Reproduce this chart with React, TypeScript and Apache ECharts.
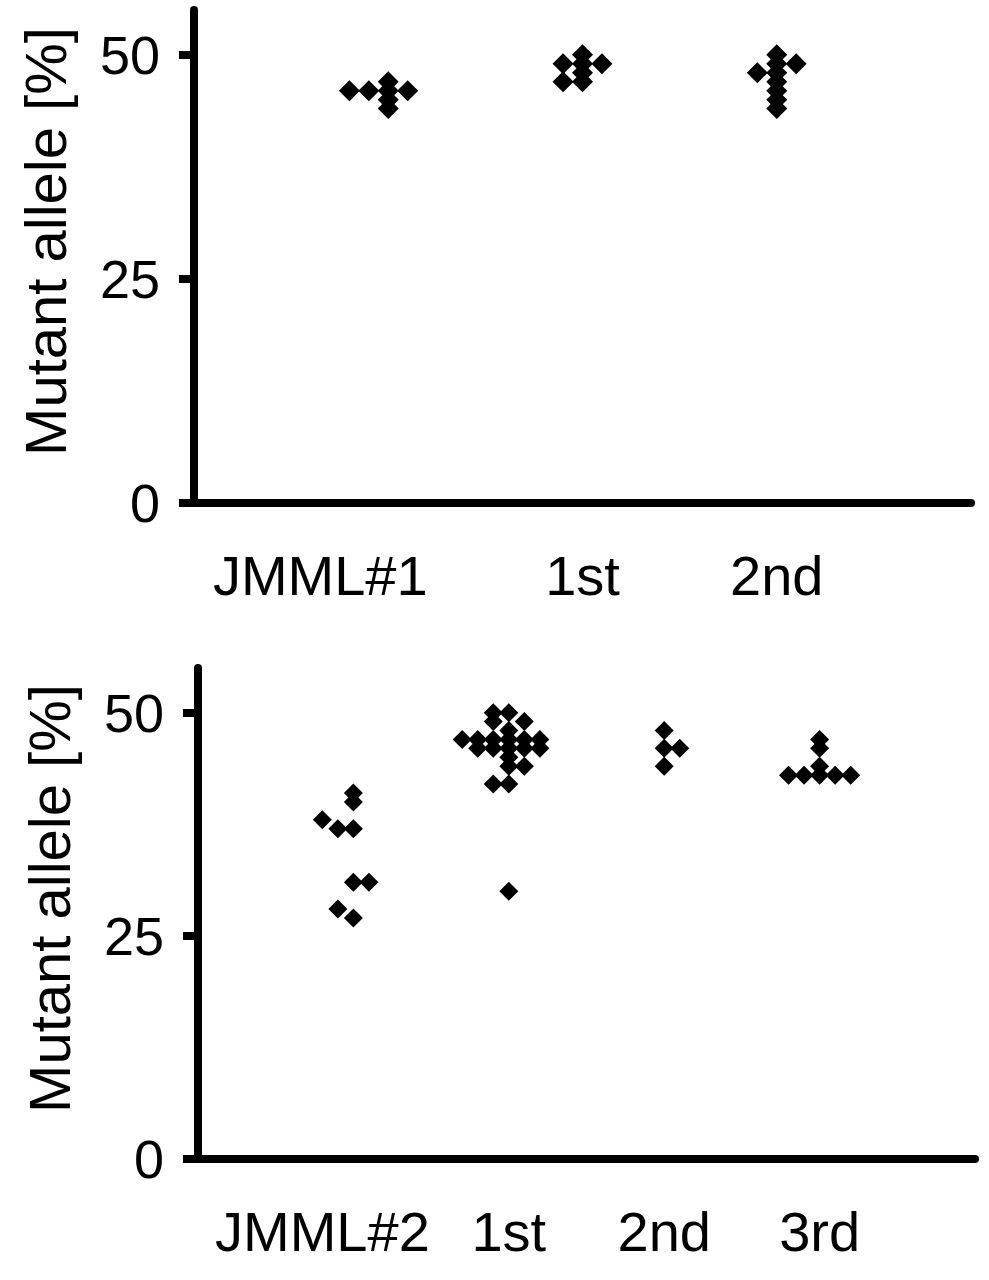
import React, { useEffect, useRef } from "react";
import * as echarts from "echarts";

const topCategories = ["JMML#1", "1st", "2nd"];
const bottomCategories = ["JMML#2", "1st", "2nd", "3rd"];
const yTickValues = [0, 25, 50];
const yAxisTitle = "Mutant allele [%]";

// top panel (x = category position incl. horizontal spread, y = mutant allele %)
const topJmml1X = [0.8, 0.9, 1.0, 1.0, 1.0, 1.0, 1.1];
const topJmml1Y = [46, 46, 46, 47, 45, 44, 46];
const top1stX = [1.9, 1.9, 2.0, 2.0, 2.0, 2.0, 2.1];
const top1stY = [49, 47, 50, 49, 48, 47, 49];
const top2ndX = [2.9, 3.0, 3.0, 3.0, 3.0, 3.0, 3.0, 3.0, 3.1];
const top2ndY = [48, 50, 49, 48, 47, 46, 45, 44, 49];

// bottom panel
const botJmml2X = [1.0, 1.0, 0.8, 0.9, 1.0, 1.0, 1.1, 0.9, 1.0];
const botJmml2Y = [41, 40, 38, 37, 37, 31, 31, 28, 27];
const bot1stX = [1.9, 2.0, 1.9, 2.1, 2.0, 1.7, 1.8, 1.9, 2.0, 2.1, 2.2, 1.8, 1.9, 2.0, 2.1, 2.2, 2.0, 2.0, 2.1, 1.9, 2.0, 2.0];
const bot1stY = [50, 50, 49, 49, 48, 47, 47, 47, 47, 47, 47, 46, 46, 46, 46, 46, 45, 44, 44, 42, 42, 30];
const bot2ndX = [3.0, 3.0, 3.1, 3.0];
const bot2ndY = [48, 46, 46, 44];
const bot3rdX = [4.0, 4.0, 4.0, 3.8, 3.9, 4.0, 4.1, 4.2];
const bot3rdY = [47, 46, 44, 43, 43, 43, 43, 43];

const FONT = "'Liberation Sans', Arial, sans-serif";

function zip(xs: number[], ys: number[]) {
  return xs.map((x, i) => [x, ys[i]]);
}

function catFormatter(cats: string[]) {
  return (v: number) => {
    const r = Math.round(v);
    if (Math.abs(v - r) > 1e-6) return "";
    const i = r - 1;
    if (i < 0 || i >= cats.length) return "";
    return i === 0 ? `{first|${cats[0]}}` : cats[i];
  };
}

export default function App() {
  const ref = useRef<HTMLDivElement>(null);
  useEffect(() => {
    document.body.style.margin = "0";
    const chart = echarts.init(ref.current!, undefined, { renderer: "svg" });
    const axisLine = { show: true, lineStyle: { color: "#000", width: 8 } };
    const yAxisCommon = {
      type: "value",
      min: 0,
      max: 55,
      interval: 25,
      splitLine: { show: false },
      axisLine,
      axisTick: {
        show: true,
        customValues: yTickValues,
        length: 15,
        lineStyle: { color: "#000", width: 8 },
      },
      axisLabel: {
        customValues: yTickValues,
        margin: 34,
        color: "#000",
        fontSize: 54,
        fontFamily: FONT,
      },
      name: yAxisTitle,
      nameLocation: "middle",
      nameRotate: 90,
      nameGap: 120,
      nameTextStyle: { color: "#000", fontSize: 58, fontFamily: FONT, padding: [0, 0, 0, 30] },
    };
    const xAxisCommon = (cats: string[], max: number, shift: number, idx: number) => ({
      type: "value",
      gridIndex: idx,
      min: 0,
      max,
      interval: 1,
      splitLine: { show: false },
      axisLine,
      axisTick: { show: false },
      axisLabel: {
        formatter: catFormatter(cats),
        margin: 44,
        color: "#000",
        fontSize: 56,
        fontFamily: FONT,
        showMinLabel: true,
        showMaxLabel: true,
        rich: {
          first: { padding: [0, shift, 0, 0], fontSize: 56, fontFamily: FONT, color: "#000" },
        },
      },
    });
    const scatter = (data: number[][], idx: number, size: number) => ({
      type: "scatter",
      xAxisIndex: idx,
      yAxisIndex: idx,
      symbol: "diamond",
      symbolSize: size,
      itemStyle: { color: "#000", opacity: 1 },
      data,
    });
    chart.setOption({
      animation: false,
      backgroundColor: "#fff",
      grid: [
        { left: 194, right: 18, top: 10, bottom: 1280 - 503 },
        { left: 198, right: 14, top: 668, bottom: 1280 - 1159 },
      ],
      xAxis: [xAxisCommon(topCategories, 4, 136, 0), xAxisCommon(bottomCategories, 5, 62, 1)],
      yAxis: [
        { ...yAxisCommon, gridIndex: 0 },
        { ...yAxisCommon, gridIndex: 1 },
      ],
      series: [
        scatter(zip(topJmml1X, topJmml1Y), 0, 21),
        scatter(zip(top1stX, top1stY), 0, 21),
        scatter(zip(top2ndX, top2ndY), 0, 21),
        scatter(zip(botJmml2X, botJmml2Y), 1, 19),
        scatter(zip(bot1stX, bot1stY), 1, 19),
        scatter(zip(bot2ndX, bot2ndY), 1, 19),
        scatter(zip(bot3rdX, bot3rdY), 1, 19),
      ],
    });
    return () => chart.dispose();
  }, []);
  return <div ref={ref} style={{ width: 989, height: 1280 }} />;
}
